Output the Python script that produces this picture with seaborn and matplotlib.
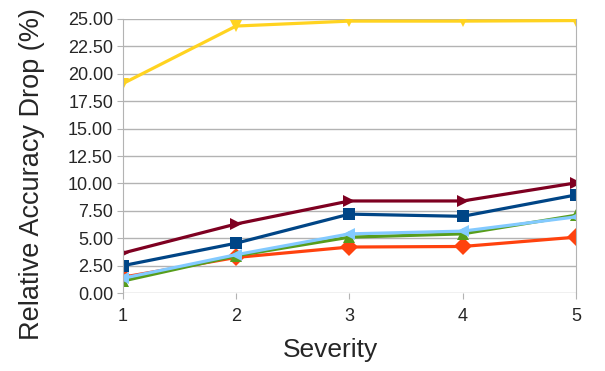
import numpy as np
import pandas as pd
import matplotlib
matplotlib.use("Agg")
import matplotlib.pyplot as plt
import seaborn as sns

severity = [1, 2, 3, 4, 5]
s_yellow = [19.1, 24.35, 24.8, 24.8, 24.85]
s_maroon = [3.65, 6.3, 8.4, 8.4, 10.05]
s_blue = [2.5, 4.55, 7.2, 7.0, 8.95]
s_lightblue = [1.35, 3.5, 5.4, 5.65, 6.95]
s_green = [1.1, 3.4, 5.1, 5.4, 7.1]
s_orange = [1.45, 3.25, 4.2, 4.25, 5.1]

names = ["yellow", "maroon", "blue", "lightblue", "green", "orange"]
values = [s_yellow, s_maroon, s_blue, s_lightblue, s_green, s_orange]
colors = {"yellow": "#ffd320", "maroon": "#7e0021", "blue": "#004586",
          "lightblue": "#83caff", "green": "#579d1c", "orange": "#ff420e"}
markers = {"yellow": "v", "maroon": ">", "blue": "s",
           "lightblue": "<", "green": "^", "orange": "D"}

rows = []
for n, v in zip(names, values):
    for s, y in zip(severity, v):
        rows.append({"Severity": s, "drop": y, "series": n})
df = pd.DataFrame(rows)

sns.set_style("white")
plt.rcParams['font.family'] = ['Liberation Sans', 'DejaVu Sans']

fig = plt.figure(figsize=(6.05, 3.71), dpi=100)
ax = fig.add_axes([0.203, 0.21, 0.749, 0.739])

# draw order: orange/green first so light blue ends up on top
order = ["orange", "green", "lightblue", "blue", "maroon", "yellow"]
sns.lineplot(data=df, x="Severity", y="drop", hue="series", style="series",
             hue_order=order, style_order=order, palette=colors,
             markers=markers, dashes=False, linewidth=2.3, markersize=9,
             markeredgewidth=0, legend=False, ax=ax)

ax.set_xlim(1, 5)
ax.set_ylim(0, 25)
ax.set_xticks(severity)
ax.set_yticks(np.arange(0, 25.01, 2.5))
ax.set_yticklabels([f"{t:.2f}" for t in np.arange(0, 25.01, 2.5)])
ax.grid(axis="y", color="#b3b3b3", linewidth=1)
ax.set_axisbelow(True)
for sp in ["top", "bottom"]:
    ax.spines[sp].set_visible(False)
for sp in ["left", "right"]:
    ax.spines[sp].set_color("#b3b3b3")
ax.tick_params(axis="both", length=4, color="#b3b3b3", labelsize=13,
               direction="out", left=True, bottom=True)
ax.tick_params(axis="x", pad=7)
ax.tick_params(axis="y", pad=3)
ax.set_xlabel("Severity", fontsize=19)
ax.set_ylabel("Relative Accuracy Drop (%)", fontsize=19.5)
ax.xaxis.set_label_coords(0.459, -0.164)
ax.yaxis.set_label_coords(-0.172, 0.434)

fig.savefig("out.png", dpi=100)
